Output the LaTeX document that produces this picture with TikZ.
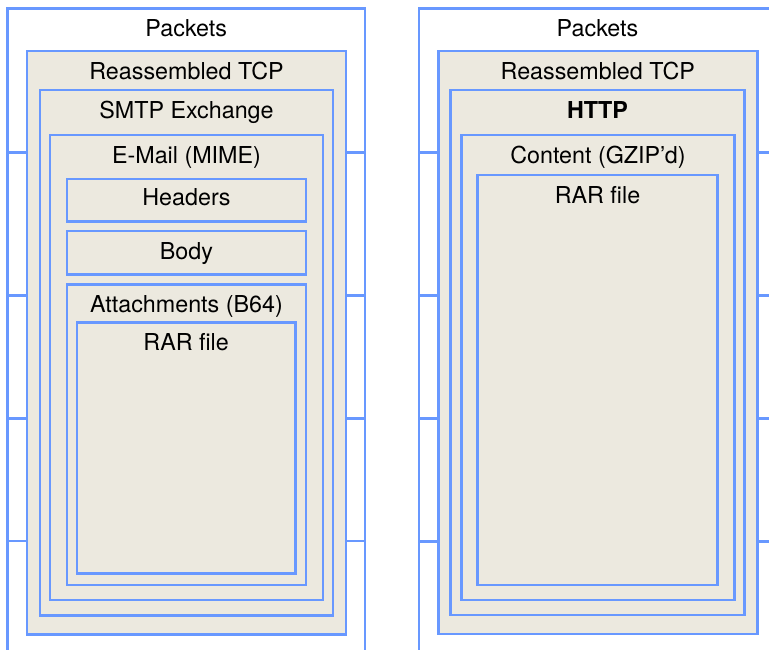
\documentclass[tikz,border=0pt]{standalone}
\usepackage{fontspec}
\setmainfont{TeX Gyre Heros}
\usetikzlibrary{calc}
\definecolor{edgeblue}{HTML}{6898FF}
\definecolor{boxfill}{HTML}{ECE9DF}
\tikzset{
  box/.style={draw=edgeblue, fill=boxfill, line width=2.5pt, rectangle, anchor=north west, inner sep=0pt, outer sep=0pt},
  wire/.style={draw=edgeblue, line width=2.5pt},
  lbl/.style={anchor=base, inner sep=0pt, font=\fontsize{23.3}{28}\selectfont, text=black}
}
\newcommand{\mkbox}[6]{% name, left, top, right, bottom, text
  \node[box, minimum width={(#4-#2)*1pt}, minimum height={(#5-#3)*1pt}] (#1) at (#2,#3) {};
  \node[lbl] (#1-t) at ($(#1.north)+(0,28)$) {#6};
}
\begin{document}
\begin{tikzpicture}[x=1pt,y=-1pt]
\useasboundingbox (0,0) rectangle (769,649);
\fill[white] (0,0) rectangle (769,649);
% ---------- left panel ----------
\coordinate (pl-bl) at (7.5,655);
\coordinate (pl-tl) at (7.5,8.5);
\coordinate (pl-tr) at (365,8.5);
\coordinate (pl-br) at (365,655);
\draw[wire] (pl-bl) -- (pl-tl) -- (pl-tr) -- (pl-br);
\node[lbl] (pl-t) at (186.25,36.7) {Packets};
\mkbox{tcpL}{27}{51}{346}{634.3}{Reassembled TCP}
\mkbox{smtp}{40}{90}{333}{615.3}{SMTP Exchange}
\mkbox{mail}{50}{135}{323}{600}{E-Mail (MIME)}
\node[box, minimum width=239pt, minimum height=42.7pt] (hdr) at (67,179) {};
\node[lbl] (hdr-t) at ($(hdr.north)+(0,26.5)$) {Headers};
\node[box, minimum width=239pt, minimum height=43.7pt] (body) at (67,231) {};
\node[lbl] (body-t) at ($(body.north)+(0,28)$) {Body};
\mkbox{att}{67}{284.3}{306}{585}{Attachments (B64)}
\mkbox{rarL}{77}{322.7}{295.3}{573.7}{RAR file}
\foreach \yy/\k in {152.5/1,295.5/2,418.3/3,541/4}{
  \coordinate (lL\k) at (7.5,\yy);
  \coordinate (lR\k) at (365,\yy);
  \draw[wire] (lL\k) -- (tcpL.west |- lL\k);
  \draw[wire] (tcpL.east |- lR\k) -- (lR\k);
}
% ---------- right panel ----------
\coordinate (pr-bl) at (419,655);
\coordinate (pr-tl) at (419,8.5);
\coordinate (pr-tr) at (776.5,8.5);
\coordinate (pr-br) at (776.5,655);
\draw[wire] (pr-bl) -- (pr-tl) -- (pr-tr) -- (pr-br);
\node[lbl] (pr-t) at (597.5,36.7) {Packets};
\mkbox{tcpR}{438.3}{51}{757.3}{634}{Reassembled TCP}
\mkbox{http}{450.7}{90}{744.3}{615}{\bfseries HTTP}
\mkbox{cont}{461.7}{135}{734.3}{600}{Content (GZIP’d)}
\mkbox{rarR}{477.7}{175}{717.3}{585}{RAR file}
\foreach \yy/\k in {152.5/1,295.5/2,418.3/3,541.5/4}{
  \coordinate (rL\k) at (419,\yy);
  \coordinate (rR\k) at (776.5,\yy);
  \draw[wire] (rL\k) -- (tcpR.west |- rL\k);
  \draw[wire] (tcpR.east |- rR\k) -- (rR\k);
}
\end{tikzpicture}
\end{document}
